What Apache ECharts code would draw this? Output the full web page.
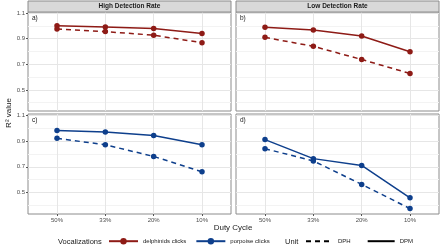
<!DOCTYPE html>
<html><head><meta charset="utf-8">
<script src="https://cdn.jsdelivr.net/npm/echarts@6/dist/echarts.min.js"></script>
<style>html,body{margin:0;padding:0;background:#fff}#c{width:448px;height:252px}</style>
</head><body><div id="c"></div>
<script>
// ---- data ----
const categories = ['50%', '33%', '20%', '10%'];
const yTicks = [0.5, 0.7, 0.9, 1.1];
const yMinor = [0.4, 0.6, 0.8, 1.0];
const panelLabels = ['a)', 'b)', 'c)', 'd)'];
const stripTitles = ['High Detection Rate', 'Low Detection Rate'];
// a) high detection, delphinids
const aDPM = [1.00, 0.99, 0.98, 0.94];
const aDPH = [0.975, 0.955, 0.927, 0.868];
// b) low detection, delphinids
const bDPM = [0.988, 0.967, 0.92, 0.797];
const bDPH = [0.91, 0.84, 0.737, 0.628];
// c) high detection, porpoise
const cDPM = [0.98, 0.969, 0.941, 0.87];
const cDPH = [0.92, 0.87, 0.78, 0.661];
// d) low detection, porpoise
const dDPM = [0.91, 0.763, 0.71, 0.46];
const dDPH = [0.84, 0.745, 0.564, 0.377];

const RED = '#8E1B16', BLUE = '#0E3F8C';
const FONT = 'Liberation Sans, Arial, sans-serif';

const grids = [
  {left: 28, top: 12, width: 203, height: 99},
  {left: 236, top: 12, width: 203, height: 99},
  {left: 28, top: 114, width: 203, height: 100},
  {left: 236, top: 114, width: 203, height: 100}
].map(g => Object.assign(g, {show: true, borderColor: '#8c8c8c', borderWidth: 1, backgroundColor: '#fff'}));

const xAxes = grids.map((g, i) => ({
  type: 'value', gridIndex: i, min: 0.4, max: 4.6,
  axisLine: {show: false},
  splitLine: {show: false},
  axisTick: {show: i >= 2, customValues: [1, 2, 3, 4], length: 2, lineStyle: {color: '#555', width: 1}},
  axisLabel: {show: i >= 2, customValues: [1, 2, 3, 4], formatter: v => categories[Math.round(v) - 1] || '',
    fontSize: 6, color: '#4d4d4d', margin: 3, fontFamily: FONT}
}));
const yAxes = grids.map((g, i) => ({
  type: 'value', gridIndex: i, min: 0.335, max: 1.108,
  axisLine: {show: false},
  splitLine: {show: false},
  axisTick: {show: i % 2 === 0, customValues: yTicks, length: 2, lineStyle: {color: '#555', width: 1}},
  axisLabel: {show: i % 2 === 0, customValues: yTicks, formatter: v => v.toFixed(1),
    fontSize: 6, color: '#4d4d4d', margin: 3, fontFamily: FONT}
}));

const series = [];
// grid lines as background series
grids.forEach((g, i) => {
  series.push({
    type: 'line', xAxisIndex: i, yAxisIndex: i, data: [], z: 1, silent: true,
    markLine: {
      silent: true, z: 1, symbol: ['none', 'none'], label: {show: false}, animation: false,
      data: [
        ...yMinor.map(v => ({yAxis: v, lineStyle: {color: '#f3f3f3', width: 1, type: 'solid'}})),
        ...yTicks.map(v => ({yAxis: v, lineStyle: {color: '#e6e6e6', width: 1, type: 'solid'}})),
        ...categories.map((c, k) => ({xAxis: k + 1, lineStyle: {color: '#e6e6e6', width: 1, type: 'solid'}}))
      ]
    }
  });
});

function mk(name, vals, idx, color, dashed) {
  return {
    name, type: 'line', xAxisIndex: idx, yAxisIndex: idx, z: 3,
    data: vals.map((v, k) => [k + 1, v]),
    symbol: 'circle', symbolSize: 5.5,
    itemStyle: {color},
    lineStyle: {color, width: 1.5, type: dashed ? [5, 4] : 'solid'},
    animation: false
  };
}
series.push(mk('delphinids clicks', aDPM, 0, RED, false));
series.push(mk('delphinids clicks', aDPH, 0, RED, true));
series.push(mk('delphinids clicks', bDPM, 1, RED, false));
series.push(mk('delphinids clicks', bDPH, 1, RED, true));
series.push(mk('porpoise clicks', cDPM, 2, BLUE, false));
series.push(mk('porpoise clicks', cDPH, 2, BLUE, true));
series.push(mk('porpoise clicks', dDPM, 3, BLUE, false));
series.push(mk('porpoise clicks', dDPH, 3, BLUE, true));
// legend-only series
series.push({name: 'DPH', type: 'line', xAxisIndex: 0, yAxisIndex: 0, data: [], symbol: 'none',
  itemStyle: {color: '#000'}, lineStyle: {color: '#000', width: 1.5, type: [5, 4]}});
series.push({name: 'DPM', type: 'line', xAxisIndex: 0, yAxisIndex: 0, data: [], symbol: 'none',
  itemStyle: {color: '#000'}, lineStyle: {color: '#000', width: 1.5, type: 'solid'}});

const graphic = [];
function txt(x, y, text, size, opts) {
  return Object.assign({type: 'text', x, y, z: 11,
    style: Object.assign({text, fontSize: size, fill: '#1a1a1a', fontFamily: FONT,
      textAlign: 'center', textVerticalAlign: 'middle'}, (opts && opts.style) || {})}, (opts && opts.el) || {});
}
// strips
[0, 1].forEach(i => {
  const g = grids[i];
  graphic.push({type: 'rect', x: g.left, y: 1, shape: {width: g.width, height: 11},
    style: {fill: '#d9d9d9', stroke: '#8c8c8c', lineWidth: 1}, z: 10});
  graphic.push(txt(g.left + g.width / 2, 6.5, stripTitles[i], 6.5, {style: {fontWeight: 'bold'}}));
});
grids.forEach((g, i) => {
  graphic.push(txt(g.left + 4, g.top + 6.5, panelLabels[i], 6.5, {style: {textAlign: 'left'}}));
});
graphic.push(txt(233, 228, 'Duty Cycle', 8));
graphic.push(txt(9, 113, 'R² value', 8, {el: {rotation: Math.PI / 2}}));
graphic.push(txt(58, 242, 'Vocalizations', 7.5, {style: {textAlign: 'left'}}));
graphic.push(txt(285, 242, 'Unit', 7.5, {style: {textAlign: 'left'}}));

const option = {
  animation: false,
  grid: grids, xAxis: xAxes, yAxis: yAxes, series, graphic,
  legend: [
    {data: ['delphinids clicks', 'porpoise clicks'], left: 108, top: 238, padding: 0, itemWidth: 29, itemHeight: 8,
      itemGap: 9, selectedMode: false, textStyle: {fontSize: 6, color: '#1a1a1a', fontFamily: FONT}},
    {data: [{name: 'DPH', itemStyle: {opacity: 0}}, {name: 'DPM', itemStyle: {opacity: 0}}], left: 305, top: 238,
      padding: 0, itemWidth: 27, itemHeight: 8, itemGap: 16, selectedMode: false,
      textStyle: {fontSize: 6, color: '#1a1a1a', fontFamily: FONT}}
  ]
};
const chart = echarts.init(document.getElementById('c'), null, {renderer: 'canvas'});
chart.setOption(option);
</script></body></html>
